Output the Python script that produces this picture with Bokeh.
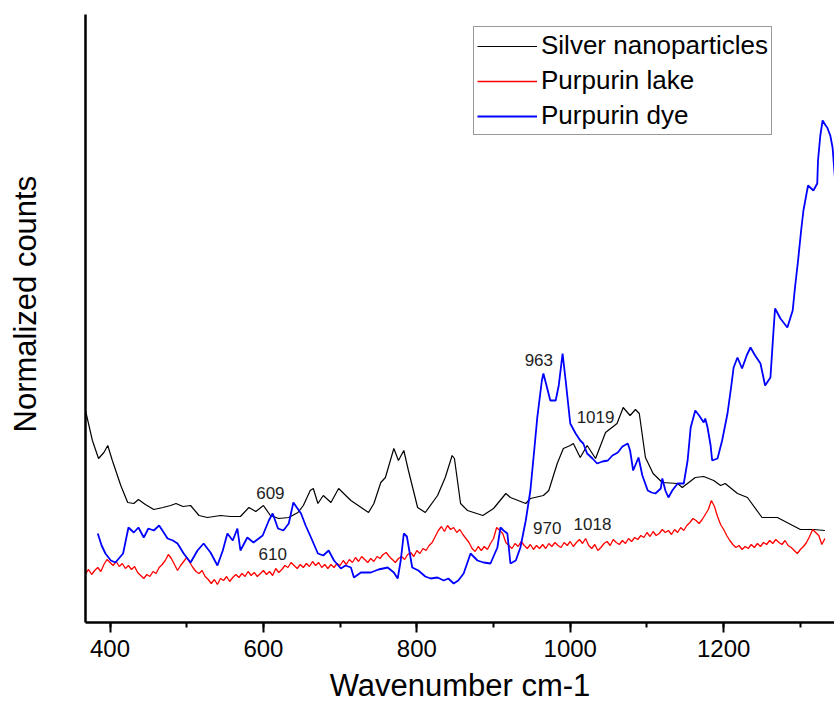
from bokeh.plotting import figure
from bokeh.models import Label, Legend, LegendItem, SingleIntervalTicker, FixedTicker, Range1d, Title
from bokeh.embed import file_html
from bokeh.resources import INLINE

# Wavenumber (cm-1) / normalized counts (arbitrary units)
silver_x = [368, 377, 385, 392, 397, 403, 414, 423, 431, 437, 446, 457, 469, 479, 486, 495, 505, 516, 527,
            544, 557, 570, 581, 590, 600, 609, 620, 633, 645, 652, 661, 665, 671, 678, 688, 698, 714, 737,
            744, 753, 759, 770, 776, 783, 789, 801, 811, 827, 837, 846, 849, 857, 866, 886, 900, 916, 922,
            942, 948, 965, 972, 983, 991, 1000, 1004, 1013, 1022, 1033, 1046, 1061, 1069, 1078, 1085, 1090,
            1098, 1108, 1120, 1140, 1146, 1163, 1174, 1187, 1196, 1202, 1218, 1231, 1250, 1270, 1300, 1317, 1332]
silver_y = [212, 182, 164, 170, 177, 162, 137, 120, 119, 123, 118, 113, 115, 117, 119, 116, 117, 107, 105,
            107, 106, 106, 115, 111, 117, 107, 104, 105, 110, 117, 132, 134, 119, 127, 120, 134, 122, 110,
            119, 140, 145, 174, 162, 172, 152, 115, 110, 127, 145, 167, 164, 119, 112, 107, 114, 129, 125,
            119, 124, 127, 132, 159, 174, 177, 179, 165, 177, 164, 190, 199, 215, 207, 213, 209,
            165, 149, 140, 139, 135, 145, 146, 142, 137, 139, 129, 125, 105, 105, 93, 93, 92]

lake_x = [368, 372, 376, 380, 384, 388, 392, 396, 400, 404,
          408, 412, 416, 420, 424, 428, 432, 436, 440, 444,
          448, 452, 456, 460, 464, 468, 472, 476, 480, 484,
          488, 492, 496, 500, 504, 508, 512, 516, 520, 524,
          528, 532, 536, 540, 544, 548, 552, 556, 560, 564,
          568, 572, 576, 580, 584, 588, 592, 596, 600, 604,
          608, 612, 616, 620, 624, 628, 632, 636, 640, 644,
          648, 652, 656, 660, 664, 668, 672, 676, 680, 684,
          688, 692, 696, 700, 704, 708, 712, 716, 720, 724,
          728, 732, 736, 740, 744, 748, 752, 756, 760, 764,
          768, 772, 776, 780, 784, 788, 792, 796, 800, 804,
          808, 812, 816, 820, 824, 828, 832, 836, 840, 844,
          848, 852, 856, 860, 864, 868, 872, 876, 880, 884,
          888, 892, 896, 900, 904, 908, 912, 916, 920, 924,
          928, 932, 936, 940, 944, 948, 952, 956, 960, 964,
          968, 972, 976, 980, 984, 988, 992, 996, 1000, 1004,
          1008, 1012, 1016, 1020, 1024, 1028, 1032, 1036, 1040, 1044,
          1048, 1052, 1056, 1060, 1064, 1068, 1072, 1076, 1080, 1084,
          1088, 1092, 1096, 1100, 1104, 1108, 1112, 1116, 1120, 1124,
          1128, 1132, 1136, 1140, 1144, 1148, 1152, 1156, 1160, 1164,
          1168, 1172, 1176, 1180, 1184, 1188, 1192, 1196, 1200, 1204,
          1208, 1212, 1216, 1220, 1224, 1228, 1232, 1236, 1240, 1244,
          1248, 1252, 1256, 1260, 1264, 1268, 1272, 1276, 1280, 1284,
          1288, 1292, 1296, 1300, 1304, 1308, 1312, 1316, 1320, 1324,
          1328, 1332]
lake_y = [49, 53, 48, 52, 55, 51, 58, 63, 60, 57,
          61, 56, 59, 54, 57, 53, 56, 50, 47, 44,
          48, 46, 51, 49, 55, 58, 62, 68, 64, 58,
          52, 57, 61, 65, 60, 55, 51, 49, 52, 46,
          43, 39, 43, 38, 44, 42, 46, 41, 45, 48,
          45, 49, 46, 51, 47, 50, 46, 49, 52, 48,
          51, 47, 54, 50, 53, 57, 55, 60, 57, 54,
          58, 55, 59, 56, 61, 57, 60, 55, 58, 54,
          58, 55, 59, 57, 62, 58, 63, 60, 65, 61,
          66, 63, 60, 64, 61, 66, 64, 68, 70, 66,
          63, 60, 64, 66, 63, 68, 70, 66, 72, 69,
          74, 72, 77, 80, 86, 92, 96, 91, 97, 93,
          95, 90, 93, 88, 84, 80, 74, 71, 76, 72,
          76, 73, 79, 84, 95, 92, 89, 80, 77, 74,
          79, 76, 81, 77, 74, 78, 73, 77, 74, 78,
          74, 79, 76, 80, 77, 75, 80, 77, 81, 76,
          80, 83, 79, 84, 77, 74, 78, 72, 75, 79,
          81, 77, 83, 80, 78, 82, 79, 84, 81, 85,
          83, 87, 85, 90, 86, 91, 87, 89, 93, 90,
          92, 88, 93, 90, 95, 92, 97, 100, 104, 102,
          99, 103, 108, 113, 122, 116, 106, 98, 93, 87,
          82, 78, 75, 77, 73, 76, 74, 78, 75, 79,
          76, 80, 78, 82, 79, 83, 80, 78, 82, 77,
          75, 72, 69, 73, 76, 80, 86, 93, 90, 87,
          78, 84]

dye_x = [384, 389, 394, 401, 407, 417, 424, 431, 437, 444, 450, 457, 464, 470, 475, 482, 488, 496, 505, 514,
         522, 531, 540, 547, 553, 560, 566, 570, 579, 587, 599, 607, 612, 619, 626, 633, 639, 649, 655, 662,
         671, 678, 685, 692, 701, 707, 714, 718, 727, 740, 750, 762, 770, 775, 779, 783, 787, 789, 794, 802,
         811, 818, 827, 835, 841, 848, 854, 861, 870, 879, 887, 896, 905, 909, 913, 918, 922, 929, 935, 942,
         948, 953, 957, 963, 965, 969, 974, 981, 985, 990, 994, 1000, 1007, 1013, 1017, 1022, 1029, 1035, 1042,
         1049, 1055, 1062, 1068, 1075, 1078, 1082, 1089, 1094, 1101, 1106, 1111, 1118, 1120, 1124, 1128, 1133,
         1140, 1148, 1153, 1157, 1163, 1168, 1174, 1176, 1179, 1183, 1185, 1192, 1198, 1205, 1210, 1213, 1218,
         1224, 1230, 1235, 1241, 1248, 1254, 1261, 1265, 1267, 1274, 1283, 1290, 1293, 1297, 1301, 1304, 1310,
         1317, 1322, 1323, 1326, 1329, 1333, 1335, 1339, 1342, 1345]
dye_y = [89, 77, 69, 62, 60, 69, 95, 90, 95, 85, 94, 92, 97, 90, 84, 82, 79, 69, 60, 72,
         79, 70, 57, 72, 89, 82, 94, 72, 85, 80, 87, 102, 109, 94, 92, 99, 120, 109, 97, 85,
         69, 67, 72, 62, 54, 57, 55, 45, 50, 50, 53, 55, 50, 44, 62, 89, 86, 77, 55, 52,
         46, 44, 45, 42, 44, 39, 42, 49, 69, 62, 60, 59, 75, 95, 92, 89, 59, 62, 75, 102,
         132, 172, 205, 242, 249, 237, 222, 222, 237, 269, 242, 199, 189, 182, 179, 169, 164, 159, 161,
         162, 167, 170, 176, 179, 172, 152, 165, 147, 132, 130, 129, 134, 144, 132, 125, 132,
         139, 139, 162, 195, 212, 207, 200, 204, 195, 177, 162, 164, 182, 209, 237, 255, 265,
         254, 267, 275, 267, 259, 237, 245, 292, 314, 304, 295, 312, 335, 362, 392, 412, 437,
         432, 439, 462, 487, 502, 497, 495, 487, 475, 445]

peak_labels = ["609", "610", "963", "1019", "970", "1018"]
peak_x = [609, 612, 959, 1033, 970, 1029]
peak_y = [130, 69, 263, 206, 95, 99]

FONT = "Liberation Sans"

p = figure(width=834, height=713, output_backend="svg", toolbar_location=None,
           x_range=Range1d(368, 1344.5), y_range=Range1d(0, 608),
           min_border_left=85, min_border_right=0, min_border_top=14, min_border_bottom=91)
p.outline_line_color = None
p.grid.visible = False
p.background_fill_color = "white"
p.border_fill_color = "white"

r_silver = p.line(silver_x, silver_y, line_color="#000000", line_width=1.2)
r_lake = p.line(lake_x, lake_y, line_color="#ff0000", line_width=1.3)
r_dye = p.line(dye_x, dye_y, line_color="#0000ff", line_width=1.8)

xa = p.xaxis[0]
xa.ticker = SingleIntervalTicker(interval=200, num_minor_ticks=2)
xa.axis_line_width = 2.5
xa.axis_line_color = "black"
xa.major_tick_line_width = 2
xa.minor_tick_line_width = 2
xa.major_tick_out = 10
xa.major_tick_in = 0
xa.minor_tick_out = 5
xa.minor_tick_in = 0
xa.major_label_text_font = FONT
xa.major_label_text_font_size = "24px"
xa.major_label_text_color = "black"
xa.major_label_standoff = 7
xa.axis_label = "Wavenumber cm-1"
xa.axis_label_text_font = FONT
xa.axis_label_text_font_size = "31px"
xa.axis_label_text_font_style = "normal"
xa.axis_label_text_color = "black"
xa.axis_label_standoff = 8

ya = p.yaxis[0]
ya.ticker = FixedTicker(ticks=[0])
ya.major_label_overrides = {0: ""}
ya.major_label_text_font_size = "1px"
ya.axis_line_width = 2.5
ya.axis_line_color = "black"
ya.major_tick_line_color = None
ya.minor_tick_line_color = None
ya.major_tick_out = 41
ya.major_tick_in = 0
ya.minor_tick_out = 0
ya.minor_tick_in = 0
ya.major_label_standoff = 0

ytitle = Title(text="Normalized counts", align="left", vertical_align="top", offset=190,
               text_font=FONT, text_font_size="31px", text_font_style="normal", text_color="black")
if "standoff" in Title.properties():
    ytitle.standoff = 0
p.add_layout(ytitle, "left")

for t, xx, yy in zip(peak_labels, peak_x, peak_y):
    p.add_layout(Label(x=xx, y=yy, text=t, text_align="center", text_baseline="middle",
                       text_font=FONT, text_font_size="17px", text_color="#222222"))

legend = Legend(items=[LegendItem(label="Silver nanoparticles", renderers=[r_silver]),
                       LegendItem(label="Purpurin lake", renderers=[r_lake]),
                       LegendItem(label="Purpurin dye", renderers=[r_dye])],
                location=(388, 487), orientation="vertical",
                label_text_font=FONT, label_text_font_size="26px", label_text_color="black",
                glyph_width=60, glyph_height=30, label_height=30, label_standoff=4,
                spacing=4, padding=3, margin=0,
                border_line_color="#333333", border_line_width=1.5,
                background_fill_alpha=1.0)
p.add_layout(legend, "center")

open("out.html", "w").write(file_html(p, INLINE))
